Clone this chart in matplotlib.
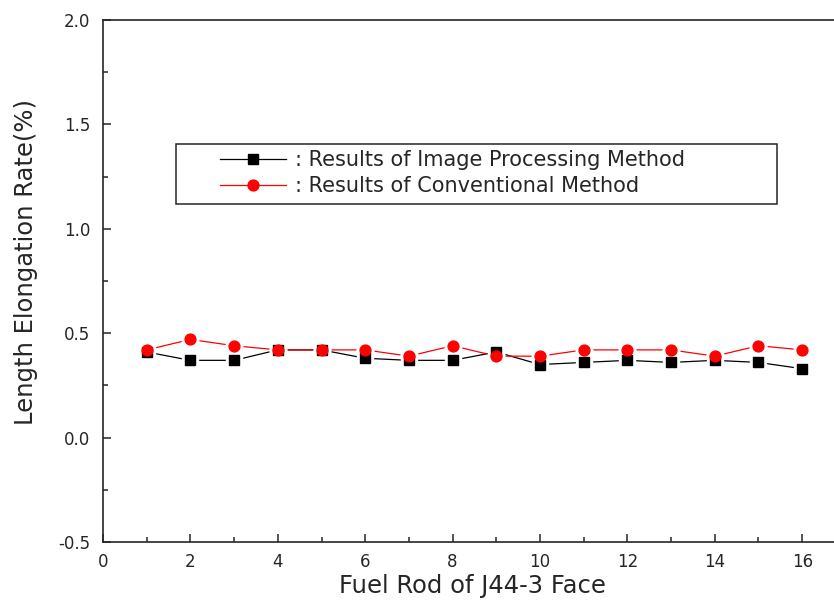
import matplotlib
matplotlib.use("Agg")
import matplotlib.pyplot as plt
from matplotlib.patches import Rectangle

# Fuel rod positions on the J44-3 face
rods = list(range(1, 17))

# Length elongation rate (%) for each rod
image_processing = [0.41, 0.37, 0.37, 0.42, 0.42, 0.38, 0.37, 0.37,
                    0.41, 0.35, 0.36, 0.37, 0.36, 0.37, 0.36, 0.33]
conventional = [0.42, 0.47, 0.44, 0.42, 0.42, 0.42, 0.39, 0.44,
                0.39, 0.39, 0.42, 0.42, 0.42, 0.39, 0.44, 0.42]

x_ticks = [0, 2, 4, 6, 8, 10, 12, 14, 16]
y_ticks = [-0.5, 0.0, 0.5, 1.0, 1.5, 2.0]

label_ip = ": Results of Image Processing Method"
label_cv = ": Results of Conventional Method"

plt.rcParams["font.family"] = ["DejaVu Sans"]
text_color = "#262626"

W, H = 834, 609
fig = plt.figure(figsize=(W / 100, H / 100), dpi=100)
left_px, top_px, bottom_px = 103, 20, 542
unit_px = 43.7
ax = fig.add_axes([left_px / W, (H - bottom_px) / H,
                   17 * unit_px / W, (bottom_px - top_px) / H])

# connecting lines, then white halos so lines stop short of the markers
ax.plot(rods, image_processing, color="black", lw=0.9, zorder=2)
ax.plot(rods, conventional, color="red", lw=0.9, zorder=2)
ax.plot(rods, image_processing, ls="none", marker="s", ms=11,
        mfc="white", mec="white", zorder=3)
ax.plot(rods, conventional, ls="none", marker="o", ms=12,
        mfc="white", mec="white", zorder=3)
ax.plot(rods, image_processing, ls="none", marker="s", ms=7,
        mfc="black", mec="black", zorder=4)
ax.plot(rods, conventional, ls="none", marker="o", ms=7.8,
        mfc="red", mec="red", zorder=5)

ax.set_xlim(0, 17)
ax.set_ylim(-0.5, 2.0)
ax.set_xticks(x_ticks)
ax.set_xticks(rods, minor=True)
ax.set_yticks(y_ticks)
ax.set_yticks([-0.25, 0.25, 0.75, 1.25, 1.75], minor=True)
ax.set_yticklabels([f"{v:.1f}" for v in y_ticks])

ax.tick_params(which="both", direction="in", colors=text_color,
               labelsize=12, width=1.1)
ax.tick_params(which="major", length=6)
ax.tick_params(which="minor", length=3.5)
ax.tick_params(axis="x", pad=8)
ax.tick_params(axis="y", pad=9)
for s in ax.spines.values():
    s.set_linewidth(1.2)
    s.set_color(text_color)

ax.set_xlabel("Fuel Rod of J44-3 Face", fontsize=17.5, color=text_color)
ax.set_ylabel("Length Elongation Rate(%)", fontsize=17.5, color=text_color)
ax.xaxis.set_label_coords((472 - left_px) / (17 * unit_px), -0.062)
ax.yaxis.set_label_coords(-0.088, 0.536)

# legend box with entries inside
ax.add_patch(Rectangle((0.098, 0.6475), 0.809, 0.1145, transform=ax.transAxes,
                       fill=False, lw=1.1, ec=text_color, zorder=6))
h1, = ax.plot([], [], color="black", lw=0.9, marker="s", ms=7)
h2, = ax.plot([], [], color="red", lw=0.9, marker="o", ms=7.8)
leg = ax.legend([h1, h2], [label_ip, label_cv], loc="center left",
                bbox_to_anchor=(0.157, 0.707), frameon=False, fontsize=15,
                borderpad=0, borderaxespad=0, handlelength=3.2,
                handletextpad=0.43, labelspacing=0.28)
for t in leg.get_texts():
    t.set_color(text_color)

fig.savefig("out.png", dpi=100)
